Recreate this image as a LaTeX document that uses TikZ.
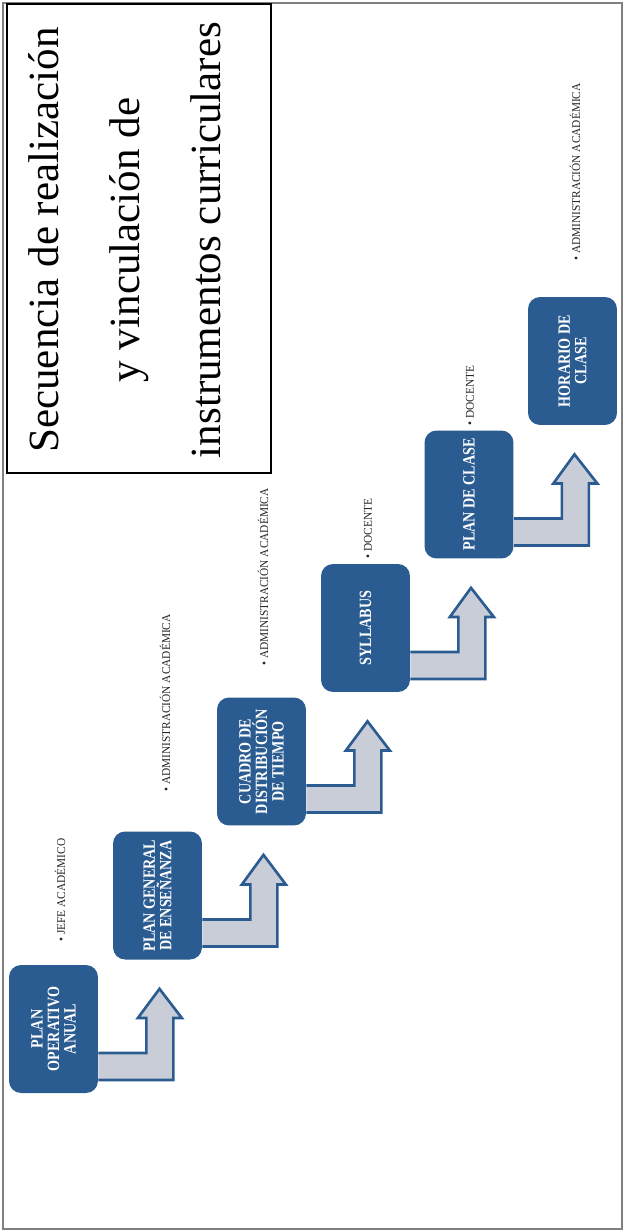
\documentclass[tikz,border=0pt]{standalone}
\usepackage{fontspec}
\setmainfont{Liberation Serif}
\newfontfamily\boxfont[FakeStretch=0.82]{Liberation Serif}
\newfontfamily\respfont[FakeStretch=0.95]{Liberation Serif}
\usetikzlibrary{calc}
\definecolor{azul}{HTML}{2B5C91}
\definecolor{gris}{HTML}{C8CDD8}
\tikzset{
  caja/.style={rotate=90, fill=azul, rounded corners=0.24cm, minimum width=2.56cm,
    minimum height=1.78cm, inner sep=1pt, align=center, text=white,
    font=\boxfont\bfseries\fontsize{9.8}{9.4}\selectfont},
  resp/.style={rotate=90, anchor=west, inner sep=0pt, text=black!85,
    font=\respfont\fontsize{6.8}{7}\selectfont},
  flecha/.style={draw=azul, fill=gris, line width=1.5pt, line join=miter}
}

\begin{document}
\begin{tikzpicture}[x=0.02cm, y=-0.02cm]
\useasboundingbox (0,0) rectangle (624,1231);
\draw[black!50, line width=1.5pt] (3,3) rectangle (622,1229);

% titulo
\node[draw, line width=1.2pt, rotate=90, minimum width=9.38cm, minimum height=5.28cm] (marco) at (139,238.5) {};
\node[rotate=90, align=center, font=\fontsize{24.5}{46}\selectfont] (titulo) at (125,240)
  {Secuencia de realización\\y vinculación de\\instrumentos curriculares};

% instrumentos
\node[caja] (poa) at (53.5,1029) {PLAN\\OPERATIVO\\ANUAL};
\node[caja] (pge) at (157.5,895.5) {PLAN GENERAL\\DE ENSEÑANZA};
\node[caja] (cdt) at (261.5,761.5) {CUADRO DE\\DISTRIBUCIÓN\\DE TIEMPO};
\node[caja] (syl) at (365.5,628) {SYLLABUS};
\node[caja] (pdc) at (469,494.5) {PLAN DE CLASE};
\node[caja] (hdc) at (572.5,361) {HORARIO DE\\CLASE};

% responsables
\node[resp] (r1) at (60,942) {• JEFE ACADÉMICO};
\node[resp] (r2) at (165,792) {• ADMINISTRACIÓN ACADÉMICA};
\node[resp] (r3) at (263,666) {• ADMINISTRACIÓN ACADÉMICA};
\node[resp] (r4) at (368,559) {• DOCENTE};
\node[resp] (r5) at (470,426) {• DOCENTE};
\node[resp] (r6) at (575,261) {• ADMINISTRACIÓN ACADÉMICA};

\foreach \a/\b in {poa/pge, pge/cdt, cdt/syl, syl/pdc, pdc/hdc}{
  \draw[flecha] ($(\a.south)+(0,24)$) -- ($(\a.south)+(48,24)$) -- ($(\a.south)+(48,-11)$)
    -- ($(\a.south)+(39.5,-11)$) -- ($(\b.west)+(2,29)$) -- ($(\a.south)+(83.5,-11)$)
    -- ($(\a.south)+(75,-11)$) -- ($(\a.south)+(75,51)$) -- ($(\a.south)+(0,51)$);
}
\end{tikzpicture}
\end{document}
